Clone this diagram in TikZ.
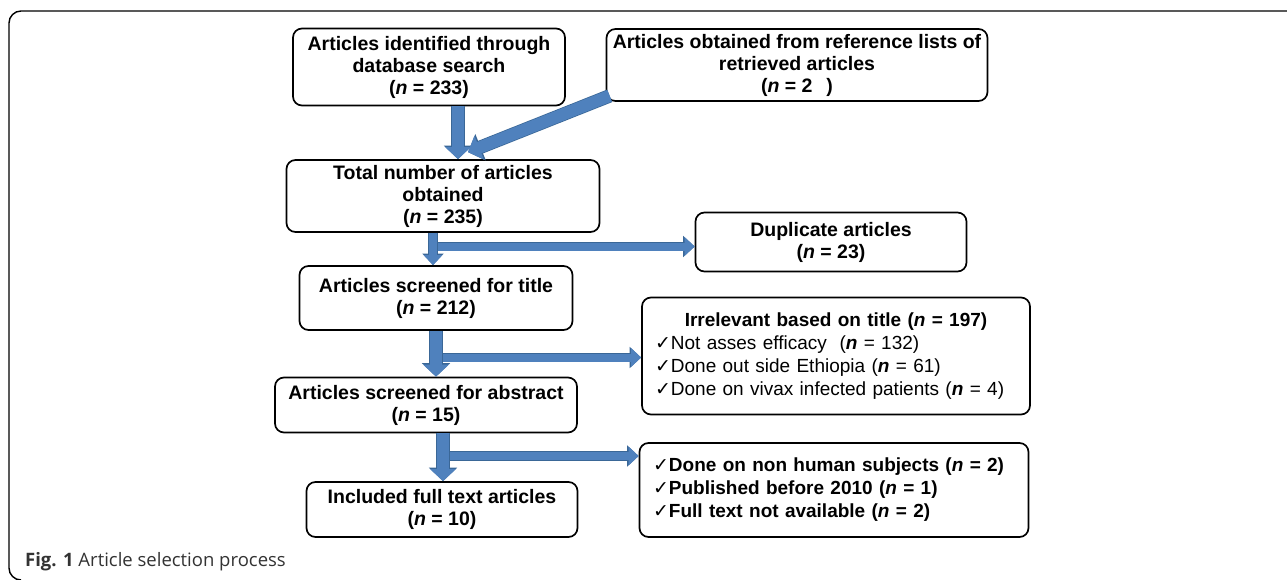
\documentclass[tikz,border=0pt]{standalone}
\usepackage{fontspec}
\setmainfont{Liberation Sans}
\newfontfamily\didafont{Open Sans}
\newfontfamily\segnofont{DejaVu Sans}
\usetikzlibrary{arrows.meta}

\definecolor{blu}{HTML}{4F81BD}
\definecolor{blubordo}{HTML}{3A6797}
\definecolor{grigiotesto}{HTML}{333333}

\newcommand{\nn}{\textit{n}}
\newcommand{\ok}{{\segnofont\mdseries\fontsize{19}{19}\selectfont ✓}}
\newcommand{\voce}[1]{{\mdseries\ok#1}}

\begin{document}
\begin{tikzpicture}[x=1pt, y=-1pt, font=\fontsize{19.5}{22}\selectfont]

\useasboundingbox (0,0) rectangle (1287,580);

% Stili dei riquadri
\tikzstyle{riquadro} = [rectangle, draw, line width=1.7pt, rounded corners=9pt,
    align=center, inner sep=0pt, font=\fontsize{19.5}{22}\selectfont\bfseries]
\tikzstyle{elenco} = [riquadro, align=left, text width=362pt,
    font=\fontsize{19}{23}\selectfont\bfseries]
\tikzstyle{frecciona} = [draw=blu, line width=12pt,
    -{Triangle[width=25pt,length=12pt]},
    preaction={draw=blubordo, line width=13.5pt, -{Triangle[width=27.5pt,length=13.5pt]}}]
\tikzstyle{freccia} = [draw=blu, line width=8pt,
    -{Triangle[width=18pt,length=10pt]},
    preaction={draw=blubordo, line width=9.5pt, -{Triangle[width=20.5pt,length=11.5pt]}}]

% Cornice
\draw [line width=1.4pt, rounded corners=12pt] (18,580) -- (9,580) -- (9,11) -- (1295,11);

% Riquadri
\node (ricerca) [riquadro, minimum width=272pt, minimum height=77pt] at (429,67)
    {Articles identified through\\database search\\(\nn{} = 233)};
\node (riferimenti) [riquadro, minimum width=381pt, minimum height=72pt] at (797,65)
    {Articles obtained from reference lists of\\retrieved articles\\(\nn{} = 2\hspace{14pt})};
\node (totale) [riquadro, minimum width=313pt, minimum height=72pt] at (443,196)
    {Total number of articles\\obtained\\(\nn{} = 235)};
\node (duplicati) [riquadro, minimum width=271pt, minimum height=59pt] at (831,242)
    {Duplicate articles\\(\nn{} = 23)};
\node (titolo) [riquadro, minimum width=273pt, minimum height=64pt] at (436,298)
    {Articles screened for title\\(\nn{} = 212)};
\node (irrilevanti) [elenco, minimum width=388pt, minimum height=117pt] at (836,356)
    {\makebox[\linewidth]{Irrelevant based on title (\nn{} = 197)}\\
     \voce{Not asses efficacy\ \ (\textbf{\nn} = 132)}\\
     \voce{Done out side Ethiopia (\textbf{\nn} = 61)}\\
     \voce{Done on vivax infected patients (\textbf{\nn} = 4)}};
\node (abstract) [riquadro, minimum width=302pt, minimum height=55pt] at (426,405)
    {Articles screened for abstract\\(\nn{} = 15)};
\node (inclusi) [riquadro, minimum width=271pt, minimum height=55pt] at (442,509.5)
    {Included full text articles\\(\nn{} = 10)};
\node (esclusi) [elenco, minimum width=389pt, minimum height=94pt] at (834,490)
    {\ok Done on non human subjects (\nn{} = 2)\\
     \ok Published before 2010 (\nn{} = 1)\\
     \ok Full text not available (\nn{} = 2)};

% Didascalia
\node (didascalia) [anchor=west, inner sep=0pt, text=grigiotesto] at (25,562)
    {\didafont\fontsize{18.5}{18.5}\selectfont\textbf{Fig. 1} Article selection process};

% Punti di diramazione
\coordinate (asse1) at (433,246);
\coordinate (bivio1) at (437,246.5);
\coordinate (asse2) at (436,357);
\coordinate (bivio2) at (440,357.5);
\coordinate (asse3) at (443,456);
\coordinate (bivio3) at (447,456);

% Frecce
\draw [freccia] (bivio1) -- (bivio1 -| duplicati.west);
\draw [freccia] (bivio2) -- (bivio2 -| irrilevanti.west);
\draw [freccia] (bivio3) -- (bivio3 -| esclusi.west);
\draw [frecciona] ([xshift=29pt]ricerca.south) -- ([xshift=29pt]ricerca.south |- totale.north);
\draw [frecciona] ([xshift=4pt,yshift=6pt]riferimenti.south west) -- ([xshift=25pt,yshift=7pt]totale.north);
\draw [freccia] (totale.south -| asse1) -- (titolo.north -| asse1);
\draw [frecciona] (titolo.south -| asse2) -- (abstract.north -| asse2);
\draw [frecciona] (abstract.south -| asse3) -- (inclusi.north -| asse3);

\end{tikzpicture}
\end{document}
